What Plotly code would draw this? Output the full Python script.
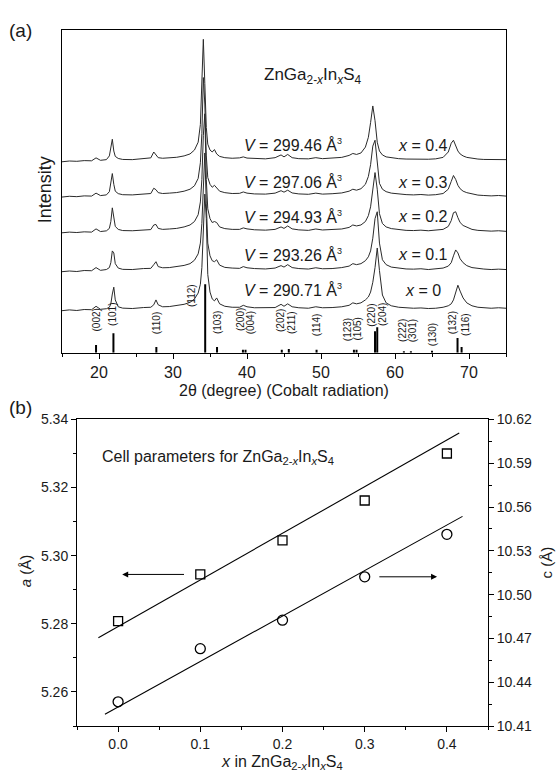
import plotly.graph_objects as go

# ---------------- Panel (a): XRD patterns ----------------
two_theta = [15.0, 16.0, 17.0, 18.0, 19.0, 19.6, 20.2, 21.0, 21.4, 21.6, 21.8, 22.0, 22.2, 22.6, 23.2,
             24.5, 26.0, 27.0, 27.4, 27.7, 28.0, 28.6, 29.5, 30.5, 31.5, 32.3, 32.9, 33.4, 33.7, 33.9,
             34.1, 34.3, 34.5, 34.7, 35.0, 35.3, 35.6, 35.9, 36.3, 37.0, 38.0, 39.0, 39.5, 40.0, 41.0,
             42.5, 43.8, 44.6, 45.0, 45.5, 46.1, 47.0, 48.3, 49.3, 50.2, 51.5, 52.8, 53.8, 54.3, 54.8,
             55.4, 56.0, 56.4, 56.7, 57.0, 57.3, 57.6, 57.9, 58.3, 58.8, 59.5, 60.5, 61.5, 62.5, 63.5,
             64.5, 65.5, 66.5, 67.2, 67.6, 67.9, 68.2, 68.5, 68.8, 69.2, 69.7, 70.4, 71.2, 72.0, 73.0,
             74.0, 75.0]

I_x00 = [1.0, 1.8, 1.2, 2.2, 2.0, 5.5, 2.4, 3.0, 4.5, 8, 18, 25, 12, 5, 3.6,
         3.2, 4.2, 4.5, 7, 12, 7, 5, 5.2, 6, 7.5, 9.5, 13, 19, 28, 45,
         80, 120, 95, 38, 20, 13, 11, 14, 8, 5.5, 4.5, 4.5, 6.5, 5, 4,
         3.8, 4.2, 7.5, 5.5, 8, 5, 4, 3.5, 5, 4, 4.2, 5, 6.5, 9, 8,
         9, 12, 15, 20, 30, 45, 65, 42, 17, 9, 6, 4.5, 4, 3.5, 3.8,
         3.2, 3.5, 4.5, 6, 8, 12, 19, 27, 21, 14, 9, 6, 4.5, 4, 3.5,
         4, 3.5]
I_x01 = [0.8, 1.5, 1.0, 2.0, 1.8, 5, 2.2, 3, 5, 10, 22, 20, 9, 4.5, 3.2,
         3, 4, 4.2, 8, 11, 6, 4.8, 5, 5.8, 7.2, 9, 12.5, 19, 30, 50,
         90, 122, 70, 30, 17, 12, 11, 13, 7.5, 5.2, 4.5, 4.2, 6, 4.8, 4,
         3.6, 4.5, 7, 5.5, 8, 5, 4, 3.5, 4.8, 3.8, 4, 5, 6.5, 9, 8,
         9, 12, 16, 22, 35, 55, 62, 30, 13, 8, 5.5, 4.2, 3.6, 3.4, 3.8,
         3, 3.4, 4.5, 6.5, 10, 17, 23, 20, 14, 10, 7, 5, 4, 3.5, 3,
         3.4, 3]
I_x02 = [0.5, 1.2, 0.8, 1.5, 1.2, 4.5, 1.8, 2.5, 5, 12, 26, 16, 7, 4, 2.8,
         2.6, 3.4, 3.8, 8.5, 9, 5, 4, 4.4, 5, 6.5, 8.5, 12, 19, 32, 55,
         100, 122, 55, 25, 15, 11, 12, 11, 6.5, 4.8, 4, 4, 5.5, 4.5, 3.6,
         3.2, 4, 6.5, 5, 7.5, 4.5, 3.5, 3, 4.4, 3.4, 3.6, 4.4, 6, 8.5, 7.5,
         8.5, 12, 18, 27, 42, 62, 45, 20, 10, 6.5, 4.8, 3.6, 3, 2.8, 3.2,
         2.6, 3, 4, 7, 13, 21, 22, 16, 11, 8, 6, 4, 3, 2.6, 2.2,
         2.6, 2]
I_x03 = [0, 0.8, 0.4, 1.2, 1, 4, 1.5, 2.2, 5.5, 14, 24, 13, 6, 3.5, 2.4,
         2.2, 3, 3.6, 9, 7.5, 4.5, 3.6, 4, 4.6, 6, 8, 11.5, 19, 35, 65,
         122, 95, 42, 20, 13, 10, 12, 9, 6, 4.5, 3.6, 3.8, 5.2, 4, 3.2,
         3, 4, 6.5, 5, 7, 4.2, 3.2, 2.8, 4, 3, 3.4, 4.2, 6, 8, 7,
         8.5, 13, 21, 33, 52, 58, 32, 14, 8, 5.5, 4, 3, 2.5, 2.2, 2.6,
         2, 2.4, 3.6, 8, 16, 22, 18, 12, 8.5, 6, 4.5, 3, 2, 1.6, 1.2,
         1.6, 1]
I_x04 = [0, 0.8, 0.5, 1.2, 1, 4, 1.5, 2.2, 6, 16, 23, 11, 5.5, 3.4, 2.4,
         2.2, 3, 4, 10, 7, 4.2, 3.6, 4, 4.6, 6, 8, 12, 20, 38, 75,
         125, 80, 35, 18, 12, 10, 12.5, 8, 5.5, 4.2, 3.6, 4, 5, 3.8, 3.2,
         3, 4.2, 7, 5, 7.5, 4.2, 3.2, 3, 4.2, 3.2, 3.5, 4.5, 6.5, 8.5, 7.5,
         9, 15, 25, 40, 57, 42, 20, 11, 7, 5, 4, 3.2, 2.8, 2.6, 3,
         2.6, 3, 4.5, 10, 19, 22, 16, 11, 8, 6, 4.5, 3.5, 2.8, 2.4, 2.2,
         2.6, 2.2]

patterns = [I_x00, I_x01, I_x02, I_x03, I_x04]
stack_offsets = [42, 82, 122, 159, 195]

v_labels = ["290.71", "293.26", "294.93", "297.06", "299.46"]
x_labels = ["0", "0.1", "0.2", "0.3", "0.4"]
label_rows = [64, 100, 139, 174, 212]

# reference stick pattern
stick_pos = [19.6, 21.95, 27.75, 34.35, 35.95, 39.45, 39.8, 44.7, 45.65, 49.4, 54.45, 54.8,
             57.3, 57.6, 61.2, 62.15, 65.0, 68.45, 69.0]
stick_h = [8, 20, 6, 70, 6, 3, 3, 3, 4, 3, 3, 3, 22, 26, 1.5, 1.5, 2, 15, 6]

hkl_text = ["(002)", "(101)", "(110)", "(112)", "(103)", "(200)", "(004)", "(202)", "(211)", "(114)",
            "(123)", "(105)", "(220)", "(204)", "(222)", "(301)", "(130)", "(132)", "(116)"]
hkl_x = [19.7, 21.9, 27.8, 32.4, 36.0, 39.1, 40.5, 44.5, 46.0, 49.4, 53.6, 55.0, 56.9, 58.4,
         61.0, 62.4, 65.1, 67.8, 69.5]
hkl_y = [20, 25, 17, 45, 17, 20, 17, 19, 17, 15, 10, 10, 24, 25, 9, 9, 5, 17, 15]

# ---------------- Panel (b): cell parameters ----------------
x_in = [0.0, 0.1, 0.2, 0.3, 0.4]
a_vals = [5.2808, 5.2945, 5.3045, 5.3162, 5.3300]
c_vals = [10.4266, 10.4630, 10.4825, 10.5122, 10.5413]
a_line_x = [-0.024, 0.415]
a_line_y = [5.2759, 5.3360]
c_line_x = [-0.016, 0.419]
c_line_y = [10.418, 10.5536]

FONT = "Arial, Liberation Sans, sans-serif"
INK = "#1a1a1a"

fig = go.Figure()

for I, off in zip(patterns, stack_offsets):
    fig.add_trace(go.Scatter(x=two_theta, y=[off + v for v in I], mode="lines",
                             line=dict(color="#2a2a2a", width=1.0), xaxis="x", yaxis="y",
                             showlegend=False, hoverinfo="skip"))

sx, sy = [], []
for p, h in zip(stick_pos, stick_h):
    sx += [p, p, None]
    sy += [0, h, None]
fig.add_trace(go.Scatter(x=sx, y=sy, mode="lines", line=dict(color="black", width=2),
                         xaxis="x", yaxis="y", showlegend=False, hoverinfo="skip"))

# panel b traces
fig.add_trace(go.Scatter(x=a_line_x, y=a_line_y, mode="lines", line=dict(color="black", width=1.1),
                         xaxis="x2", yaxis="y2", showlegend=False))
fig.add_trace(go.Scatter(x=x_in, y=a_vals, mode="markers",
                         marker=dict(symbol="square-open", size=9, color="black", line=dict(width=1.3)),
                         xaxis="x2", yaxis="y2", showlegend=False))
fig.add_trace(go.Scatter(x=c_line_x, y=c_line_y, mode="lines", line=dict(color="black", width=1.1),
                         xaxis="x2", yaxis="y3", showlegend=False))
fig.add_trace(go.Scatter(x=x_in, y=c_vals, mode="markers",
                         marker=dict(symbol="circle-open", size=10, color="black", line=dict(width=1.3)),
                         xaxis="x2", yaxis="y3", showlegend=False))


def ptext(px, py, text, size, angle=0, xanchor="center", yanchor="middle"):
    return dict(x=px / 558, y=1 - py / 783, xref="paper", yref="paper", text=text,
                textangle=angle, xanchor=xanchor, yanchor=yanchor, showarrow=False,
                font=dict(size=size, color=INK, family=FONT))


SUP3 = "<sup><span style='font-size:9px'>3</span></sup>"

ann = []
for v, xl, yr in zip(v_labels, x_labels, label_rows):
    ann.append(dict(x=46.2, y=yr, xref="x", yref="y", text="<i>V</i> = %s Å%s" % (v, SUP3),
                    xanchor="center", yanchor="middle",
                    showarrow=False, font=dict(size=16, color=INK, family=FONT)))
    ann.append(dict(x=63.8, y=yr, xref="x", yref="y", text="<i>x</i> = %s" % xl,
                    xanchor="center", yanchor="middle",
                    showarrow=False, font=dict(size=16, color=INK, family=FONT)))
for t, hx, hy in zip(hkl_text, hkl_x, hkl_y):
    ann.append(dict(x=hx, y=hy, xref="x", yref="y", text=t, textangle=-90, yanchor="bottom",
                    xanchor="center", showarrow=False, font=dict(size=10, color=INK, family=FONT)))

ann.append(dict(x=48.9, y=283, xref="x", yref="y",
                text="ZnGa<sub>2-<i>x</i></sub>In<sub><i>x</i></sub>S<sub>4</sub>",
                xanchor="center", yanchor="middle",
                showarrow=False, font=dict(size=17, color=INK, family=FONT)))
ann.append(ptext(20, 23, "(a)", 19))
ann.append(ptext(20, 408, "(b)", 19))
ann.append(ptext(45, 186, "Intensity", 18, angle=-90))
ann.append(ptext(284, 390, "2θ (degree) (Cobalt radiation)", 16))
ann.append(ptext(282, 770, "<i>x</i> in ZnGa<sub>2-<i>x</i></sub>In<sub><i>x</i></sub>S<sub>4</sub>", 16))
ann.append(ptext(25, 575, "<i>a</i> (Å)", 15, angle=-90))
ann.append(ptext(546, 566, "c (Å)", 15, angle=-90))
ann.append(ptext(100, 459, "Cell parameters for ZnGa<sub>2-<i>x</i></sub>In<sub><i>x</i></sub>S<sub>4</sub>",
                 16, xanchor="left"))
# arrows
ann.append(dict(x=0.005, y=a_vals[1], ax=0.082, ay=a_vals[1], xref="x2", yref="y2",
                axref="x2", ayref="y2", text="", showarrow=True, arrowhead=2,
                arrowsize=1.2, arrowwidth=1, arrowcolor="black"))
ann.append(dict(x=0.388, y=c_vals[3], ax=0.316, ay=c_vals[3], xref="x2", yref="y3",
                axref="x2", ayref="y3", text="", showarrow=True, arrowhead=2,
                arrowsize=1.2, arrowwidth=1, arrowcolor="black"))

axis_common = dict(showgrid=False, zeroline=False, linecolor="black", linewidth=1,
                   tickcolor="black", ticks="outside")

fig.update_layout(
    width=558, height=783, margin=dict(l=0, r=0, t=0, b=0),
    paper_bgcolor="white", plot_bgcolor="white",
    font=dict(family=FONT, color=INK),
    xaxis=dict(domain=[62 / 558, 506 / 558], anchor="y", range=[15, 75], tick0=0, dtick=10,
               ticklen=5, showline=True, mirror=True, tickfont=dict(size=16),
               minor=dict(dtick=5, ticklen=3, ticks="outside", tickcolor="black"),
               **axis_common),
    yaxis=dict(domain=[1 - 352 / 783, 1 - 22 / 783], anchor="x", range=[0, 330],
               showticklabels=False, showline=True, mirror=True, showgrid=False,
               zeroline=False, linecolor="black", ticks=""),
    xaxis2=dict(domain=[77 / 558, 488 / 558], anchor="y2", range=[-0.05, 0.45], tick0=0, dtick=0.1,
                tickformat=".1f", ticklen=5, showline=True, mirror=True, tickfont=dict(size=14),
                minor=dict(dtick=0.05, ticklen=3, ticks="outside", tickcolor="black"),
                **axis_common),
    yaxis2=dict(domain=[1 - 733 / 783, 1 - 420 / 783], anchor="x2", range=[5.25, 5.34],
                tick0=5.26, dtick=0.02, tickformat=".2f", ticklen=5, showline=True,
                tickfont=dict(size=14),
                minor=dict(dtick=0.01, tick0=5.25, ticklen=3, ticks="outside", tickcolor="black"),
                **axis_common),
    yaxis3=dict(overlaying="y2", side="right", anchor="x2", range=[10.41, 10.62],
                tick0=10.41, dtick=0.03, tickformat=".2f", ticklen=5, showline=True,
                tickfont=dict(size=14),
                minor=dict(dtick=0.015, tick0=10.41, ticklen=3, ticks="outside", tickcolor="black"),
                **axis_common),
    annotations=ann,
)

fig.write_html("out.html")
